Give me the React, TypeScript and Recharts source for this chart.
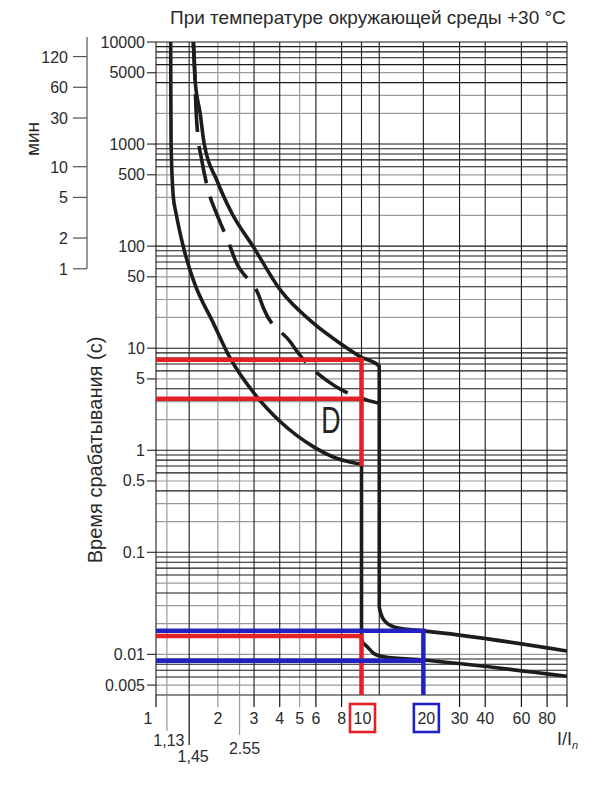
import React from 'react';
import { LineChart, Line, XAxis, YAxis, CartesianGrid, ReferenceDot } from 'recharts';

const FONT = "'Liberation Sans', Arial, Helvetica, sans-serif";
const TXT = '#2a2a2a';
const RED = '#e41f26';
const BLUE = '#2222c4';
const CURVE = '#1c1c1c';

// ---- data (x = I/In, y = trip time in seconds) ----
const lowerCurve = [
  { x: 1.179, y: 10000 }, { x: 1.181, y: 3000 }, { x: 1.184, y: 1000 }, { x: 1.214, y: 303 },
  { x: 1.252, y: 210 }, { x: 1.359, y: 98 }, { x: 1.52, y: 46.4 }, { x: 1.904, y: 17.5 },
  { x: 2.3, y: 7.93 }, { x: 3.1, y: 3.33 }, { x: 4.03, y: 1.9 }, { x: 5.85, y: 1.08 },
  { x: 7.61, y: 0.83 }, { x: 9.53, y: 0.743 }, { x: 10, y: 0.73 }, { x: 10, y: 0.0138 },
  { x: 10.66, y: 0.0119 }, { x: 11.48, y: 0.0102 }, { x: 12.85, y: 0.00946 },
  { x: 20, y: 0.0088 }, { x: 100, y: 0.0061 },
];
const upperCurve = [
  { x: 1.52, y: 10000 }, { x: 1.55, y: 4200 }, { x: 1.64, y: 2000 }, { x: 1.714, y: 1018 },
  { x: 1.977, y: 442 }, { x: 2.34, y: 210 }, { x: 2.98, y: 98 }, { x: 4.03, y: 37 },
  { x: 5.85, y: 17.5 }, { x: 7.9, y: 11.1 }, { x: 9.89, y: 8.22 }, { x: 12.2, y: 6.66 },
  { x: 12.2, y: 0.0292 }, { x: 12.85, y: 0.0217 }, { x: 14.38, y: 0.0186 },
  { x: 16.7, y: 0.0176 }, { x: 20, y: 0.017 }, { x: 100, y: 0.0108 },
];
const dashedCurve = [
  { x: 1.52, y: 10000 }, { x: 1.55, y: 4200 }, { x: 1.558, y: 2870 }, { x: 1.608, y: 1089 },
  { x: 1.658, y: 748 }, { x: 1.834, y: 303 }, { x: 1.94, y: 225 }, { x: 2.3, y: 98 },
  { x: 2.43, y: 72.8 }, { x: 3.16, y: 33 }, { x: 3.34, y: 24.5 }, { x: 4.51, y: 11.5 },
  { x: 4.94, y: 8.87 }, { x: 6.93, y: 4.68 }, { x: 8.05, y: 3.88 }, { x: 10.66, y: 3.1 },
  { x: 12.2, y: 2.89 },
];
const redTop = [{ x: 1, y: 7.7 }, { x: 10, y: 7.7 }, { x: 10, y: 0.7 }];
const redMid = [{ x: 1, y: 3.2 }, { x: 10, y: 3.2 }];
const redLow = [{ x: 1, y: 0.0151 }, { x: 10, y: 0.0151 }, { x: 10, y: 0.004 }];
const blueTop = [{ x: 1, y: 0.017 }, { x: 20, y: 0.017 }, { x: 20, y: 0.004 }];
const blueLow = [{ x: 1, y: 0.00865 }, { x: 20, y: 0.00865 }];
const zoneLabel = { x: 7.1, y: 2.0, text: 'D' };

// ---- axes ----
const xTicks = [1, 1.13, 1.45, 2, 2.55, 3, 4, 5, 6, 8, 10, 20, 30, 40, 60, 80, 100];
const xTickLabels = ['1', '1,13', '1,45', '2', '2.55', '3', '4', '5', '6', '8', '10', '20', '30', '40', '60', '80', ''];
const yTicks = [0.005, 0.01, 0.1, 0.5, 1, 5, 10, 50, 100, 500, 1000, 5000, 10000];
const yTickLabels = ['0.005', '0.01', '0.1', '0.5', '1', '5', '10', '50', '100', '500', '1000', '5000', '10000'];
const minTicksSec = [60, 120, 300, 600, 1800, 3600, 7200];
const minTickLabels = ['1', '2', '5', '10', '30', '60', '120'];

const gridYDark = [
  0.004, 0.006, 0.007, 0.008, 0.009, 0.04, 0.06, 0.07, 0.08, 0.09, 0.1,
  0.4, 0.6, 0.7, 0.8, 0.9, 1, 4, 6, 7, 8, 9, 10, 40, 60, 70, 80, 90, 100,
  400, 600, 700, 800, 900, 1000, 4000, 6000, 7000, 8000, 9000, 10000,
];
const gridYLight = [
  0.005, 0.01, 0.02, 0.03, 0.05, 0.2, 0.3, 0.5, 2, 3, 5, 20, 30, 50, 200, 300, 500, 2000, 3000, 5000,
];
const gridXDark = [1, 1.45, 3, 4, 6, 8, 10, 12.2, 20, 30, 40, 60, 80, 100];
const gridXLight = [1.13, 2, 2.55, 5];

// tick styling per x tick (index aligned with xTicks)
const xTickStyle = [
  { len: 12, c: '#111', dy: 29, dx: -8 },
  { len: 36, c: '#999', dy: 51, dx: 2 },
  { len: 50, c: '#111', dy: 67, dx: 4 },
  { len: 12, c: '#999', dy: 29, dx: 0 },
  { len: 40, c: '#999', dy: 59, dx: 5 },
  { len: 12, c: '#111', dy: 29, dx: 0 },
  { len: 12, c: '#111', dy: 29, dx: 0 },
  { len: 12, c: '#999', dy: 29, dx: 0 },
  { len: 12, c: '#111', dy: 29, dx: 0 },
  { len: 12, c: '#111', dy: 29, dx: 0 },
  { len: 0, c: '#111', dy: 29, dx: 1, box: RED },
  { len: 0, c: '#111', dy: 29, dx: 3, box: BLUE },
  { len: 12, c: '#111', dy: 29, dx: 0 },
  { len: 12, c: '#111', dy: 29, dx: 0 },
  { len: 12, c: '#111', dy: 29, dx: 0 },
  { len: 12, c: '#111', dy: 29, dx: 0 },
  { len: 12, c: '#111', dy: 29, dx: 0, unit: true },
];

function XTick(props: any) {
  const { x, y, payload } = props;
  const i = xTicks.indexOf(payload.value);
  if (i < 0) return null;
  const st: any = xTickStyle[i];
  const label = xTickLabels[i];
  const tx = x + st.dx;
  return (
    <g>
      {st.len > 0 && <line x1={x} x2={x} y1={y} y2={y + st.len} stroke={st.c} strokeWidth={1.2} />}
      {st.box && (
        <rect x={tx - 12.5} y={y + st.dy - 20} width={25} height={28} fill="none" stroke={st.box} strokeWidth={2.6} />
      )}
      {label && (
        <text x={tx} y={y + st.dy} textAnchor="middle" fontSize={16} fill={TXT} fontFamily={FONT}>
          {label}
        </text>
      )}
      {st.unit && (
        <text x={x - 10} y={y + 50} fontSize={18} fill={TXT} fontFamily={FONT}>
          I/I
          <tspan fontSize={11} fontStyle="italic" dy={4}>n</tspan>
        </text>
      )}
    </g>
  );
}

function YTick(props: any) {
  const { x, y, payload } = props;
  const i = yTicks.indexOf(payload.value);
  if (i < 0) return null;
  return (
    <g>
      <line x1={x - 9} x2={x} y1={y} y2={y} stroke="#333" strokeWidth={1.2} />
      <text x={x - 11} y={y + 5.5} textAnchor="end" fontSize={16} fill={TXT} fontFamily={FONT}>
        {yTickLabels[i]}
      </text>
    </g>
  );
}

function MinTick(props: any) {
  const { x, y, payload } = props;
  const i = minTicksSec.indexOf(payload.value);
  if (i < 0) return null;
  return (
    <g>
      <line x1={x - 14} x2={x} y1={y} y2={y} stroke="#555" strokeWidth={1.2} />
      {payload.value === 60 && <line x1={x} x2={x} y1={y} y2={37} stroke="#555" strokeWidth={1.2} />}
      <text x={x - 19} y={y + 6} textAnchor="end" fontSize={16} fill={TXT} fontFamily={FONT}>
        {minTickLabels[i]}
      </text>
    </g>
  );
}

function ZoneText(props: any) {
  const { cx, cy } = props;
  return (
    <text
      transform={`translate(${cx},${cy}) scale(0.72,1)`}
      y={13}
      textAnchor="middle"
      fontSize={37}
      fill="#222"
      fontFamily={FONT}
    >
      {zoneLabel.text}
    </text>
  );
}

export default function App() {
  const lineCommon = { dot: false, isAnimationActive: false, yAxisId: 'a', activeDot: false } as any;
  return (
    <div style={{ position: 'absolute', left: 0, top: 0, width: 600, height: 786, background: '#fff', fontFamily: FONT }}>
      <div style={{ position: 'absolute', left: 170, top: 7, fontSize: 19, color: TXT, whiteSpace: 'nowrap', fontFamily: FONT }}>
        При температуре окружающей среды +30 °C
      </div>
      <div
        style={{
          position: 'absolute', left: 33, top: 139, transform: 'translate(-50%,-50%) rotate(-90deg)',
          fontSize: 19, color: TXT, whiteSpace: 'nowrap', fontFamily: FONT,
        }}
      >
        мин
      </div>
      <div
        style={{
          position: 'absolute', left: 95, top: 450, transform: 'translate(-50%,-50%) rotate(-90deg)',
          fontSize: 20, color: TXT, whiteSpace: 'nowrap', fontFamily: FONT,
        }}
      >
        Время срабатывания (с)
      </div>
      <div style={{ position: 'absolute', left: 0, top: 0 }}>
        <LineChart width={600} height={786} margin={{ top: 42, right: 33, bottom: 0, left: 27 }}>
          <CartesianGrid
            yAxisId="a"
            horizontalValues={gridYLight}
            verticalValues={gridXLight}
            stroke="#9a9a9a"
            strokeWidth={1.2}
          />
          <CartesianGrid
            yAxisId="a"
            horizontalValues={gridYDark}
            verticalValues={gridXDark}
            stroke="#1a1a1a"
            strokeWidth={1.1}
          />
          <XAxis
            dataKey="x"
            type="number"
            scale="log"
            domain={[1, 100]}
            allowDataOverflow
            ticks={xTicks}
            interval={0}
            height={91}
            axisLine={false}
            tickLine={false}
            tickSize={0}
            tickMargin={0}
            tick={<XTick />}
          />
          <YAxis
            yAxisId="a"
            type="number"
            scale="log"
            domain={[0.004, 10000]}
            allowDataOverflow
            ticks={yTicks}
            interval={0}
            width={69}
            axisLine={false}
            tickLine={false}
            tickSize={0}
            tickMargin={0}
            tick={<YTick />}
          />
          <YAxis
            yAxisId="b"
            type="number"
            scale="log"
            domain={[0.004, 10000]}
            allowDataOverflow
            ticks={minTicksSec}
            interval={0}
            width={60}
            axisLine={false}
            tickLine={false}
            tickSize={0}
            tickMargin={0}
            tick={<MinTick />}
          />
          <Line {...lineCommon} data={lowerCurve} dataKey="y" type="monotone" stroke={CURVE} strokeWidth={3.6} />
          <Line {...lineCommon} data={upperCurve} dataKey="y" type="monotone" stroke={CURVE} strokeWidth={3.6} />
          <Line {...lineCommon} data={dashedCurve} dataKey="y" type="monotone" stroke={CURVE} strokeWidth={3.6} strokeDasharray="38 14" />
          <Line {...lineCommon} data={redTop} dataKey="y" type="linear" stroke={RED} strokeWidth={4.5} />
          <Line {...lineCommon} data={redMid} dataKey="y" type="linear" stroke={RED} strokeWidth={4.5} />
          <Line {...lineCommon} data={redLow} dataKey="y" type="linear" stroke={RED} strokeWidth={4.5} />
          <Line {...lineCommon} data={blueTop} dataKey="y" type="linear" stroke={BLUE} strokeWidth={4.5} />
          <Line {...lineCommon} data={blueLow} dataKey="y" type="linear" stroke={BLUE} strokeWidth={4.5} />
          <ReferenceDot yAxisId="a" x={zoneLabel.x} y={zoneLabel.y} r={0} shape={<ZoneText />} />
        </LineChart>
      </div>
    </div>
  );
}
